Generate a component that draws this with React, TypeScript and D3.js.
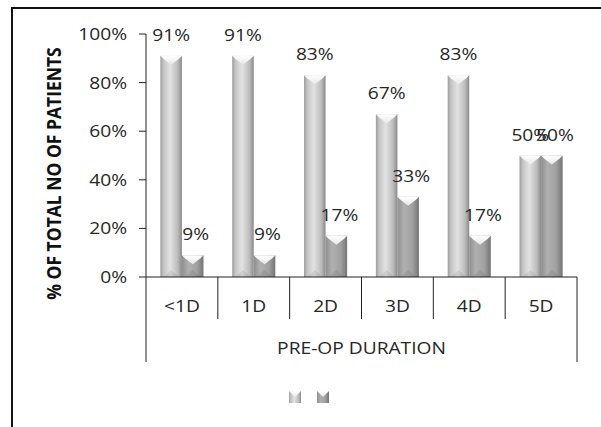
import React from "react";
import * as d3 from "d3";

const categories = ["<1D", "1D", "2D", "3D", "4D", "5D"];
const seriesNames = ["A", "B"];
const seriesA = [91, 91, 83, 67, 83, 50];
const seriesB = [9, 9, 17, 33, 17, 50];
const yTicks = [0, 20, 40, 60, 80, 100];

const W = 601;
const H = 427;
const plotLeft = 146;
const plotRight = 577;
const plotTop = 34;
const plotBottom = 277;
const font = "'Open Sans', 'Liberation Sans', sans-serif";
const textColor = "#262626";
const SX = 1.2;

function T({ x, y, anchor = "middle", size = 16, children }: any) {
  return (
    <text
      transform={`translate(${x},${y}) scale(${SX},1)`}
      textAnchor={anchor}
      fontFamily={font}
      fontSize={size}
      fill={textColor}
    >
      {children}
    </text>
  );
}

export default function App() {
  const x0 = d3.scaleBand<string>().domain(categories).range([plotLeft, plotRight]).padding(0);
  const bw = x0.bandwidth();
  const x1 = d3.scaleBand<string>().domain(seriesNames).range([bw * 0.2, bw * 0.8]).padding(0);
  const y = d3.scaleLinear().domain([0, 100]).range([plotBottom, plotTop]);
  const values = [seriesA, seriesB];
  const grads = ["gA", "gB"];

  return (
    <svg width={W} height={H} style={{ position: "absolute", left: 0, top: 0, background: "#fff" }}>
      <defs>
        <linearGradient id="gA" x1="0" x2="1" y1="0" y2="0">
          <stop offset="0%" stopColor="#9c9c9c" />
          <stop offset="15%" stopColor="#c4c4c4" />
          <stop offset="45%" stopColor="#e2e2e2" />
          <stop offset="80%" stopColor="#bcbcbc" />
          <stop offset="100%" stopColor="#8a8a8a" />
        </linearGradient>
        <linearGradient id="gB" x1="0" x2="1" y1="0" y2="0">
          <stop offset="0%" stopColor="#8e8e8e" />
          <stop offset="30%" stopColor="#b0b0b0" />
          <stop offset="70%" stopColor="#a0a0a0" />
          <stop offset="100%" stopColor="#747474" />
        </linearGradient>
        <linearGradient id="gTop" x1="0" x2="0" y1="0" y2="1">
          <stop offset="0%" stopColor="#ffffff" />
          <stop offset="100%" stopColor="#e8e8e8" />
        </linearGradient>
      </defs>
      <rect x={12} y={8} width={700} height={500} fill="#fff" stroke="#111" strokeWidth={2} />

      <text
        transform={`translate(61,${(40 + 307) / 2}) rotate(-90) scale(1,1.15)`}
        textAnchor="middle"
        fontFamily={font}
        fontWeight="bold"
        fontSize={17.5}
        fill="#111"
      >
        % OF TOTAL NO OF PATIENTS
      </text>

      {/* y axis */}
      <line x1={plotLeft} x2={plotLeft} y1={plotTop} y2={plotBottom} stroke="#222" />
      {yTicks.map((t) => (
        <g key={t}>
          <line x1={plotLeft - 7} x2={plotLeft} y1={y(t)} y2={y(t)} stroke="#222" />
          <T x={plotLeft - 19} y={y(t) + 6} anchor="end">
            {t}%
          </T>
        </g>
      ))}

      {/* bars */}
      {categories.map((c, i) => (
        <g key={c} transform={`translate(${x0(c)},0)`}>
          {seriesNames.map((s, j) => {
            const v = values[j][i];
            const bx = x1(s)!;
            const w = x1.bandwidth();
            const top = y(v);
            const h = y(0) - top;
            return (
              <g key={s}>
                <rect x={bx} y={top} width={w} height={h} fill={`url(#${grads[j]})`} />
                <polygon
                  points={`${bx},${top} ${bx + w},${top} ${bx + w - 3},${top + 3} ${bx + w / 2},${top + 9} ${bx + 3},${top + 3}`}
                  fill="url(#gTop)"
                />
                <polygon
                  points={`${bx + 3},${y(0)} ${bx + w / 2},${y(0) - 7} ${bx + w - 3},${y(0)}`}
                  fill="#000"
                  opacity={0.08}
                />
                <T x={bx + w / 2 + (j === 1 ? 3 : 0)} y={top - 15}>
                  {v}%
                </T>
              </g>
            );
          })}
        </g>
      ))}

      {/* x axis */}
      <line x1={plotLeft} x2={plotRight} y1={plotBottom} y2={plotBottom} stroke="#222" />
      {categories.map((c, i) => (
        <g key={c}>
          <T x={x0(c)! + bw / 2} y={312}>
            {c}
          </T>
          {i > 0 && <line x1={x0(c)} x2={x0(c)} y1={plotBottom} y2={319} stroke="#222" />}
        </g>
      ))}
      <line x1={plotLeft} x2={plotLeft} y1={plotBottom} y2={362} stroke="#222" />
      <line x1={plotRight} x2={plotRight} y1={plotBottom} y2={362} stroke="#222" />
      <T x={(plotLeft + plotRight) / 2} y={354}>
        PRE-OP DURATION
      </T>

      {/* legend */}
      {seriesNames.map((s, j) => {
        const lx = 289 + j * 28;
        const ly = 391;
        return (
          <g key={s}>
            <rect x={lx} y={ly} width={12} height={12} fill={`url(#${grads[j]})`} />
            <polygon points={`${lx},${ly} ${lx + 12},${ly} ${lx + 6},${ly + 6}`} fill="url(#gTop)" />
          </g>
        );
      })}
    </svg>
  );
}
